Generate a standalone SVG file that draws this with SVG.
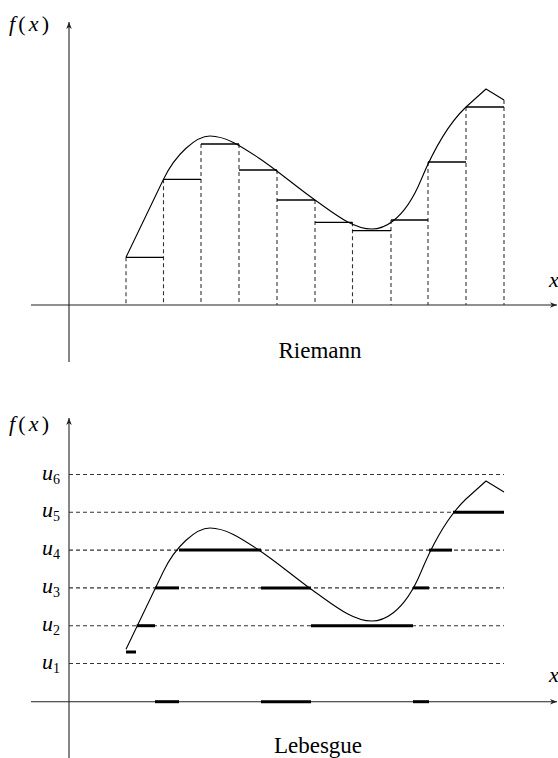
<svg xmlns="http://www.w3.org/2000/svg" width="558" height="758" viewBox="0 0 558 758">
<style>
.axis{stroke:#222;stroke-width:1.1;fill:none}
.curve{stroke:#000;stroke-width:1.1;fill:none;stroke-linejoin:round}
.dash{stroke:#333;stroke-width:1.1;stroke-dasharray:4,3;fill:none}
.bar{stroke:#000;stroke-width:1.3;fill:none}
.thick{stroke:#000;stroke-width:3;fill:none}
.math{font-family:"Liberation Serif","DejaVu Serif",serif;font-style:italic;font-size:22px;fill:#000}
.rm{font-family:"Liberation Serif","DejaVu Serif",serif;fill:#000}
.cap{font-family:"Liberation Serif","DejaVu Serif",serif;font-size:23px;fill:#000;text-anchor:middle}
.sub{font-family:"Liberation Serif","DejaVu Serif",serif;font-size:14px;fill:#000}
</style>
<defs>
<marker id="arr" viewBox="-8 -4 9 8" refX="0" refY="0" markerWidth="9" markerHeight="8" markerUnits="userSpaceOnUse" orient="auto">
<path d="M0,0 L-7,-2.8 L-5,0 L-7,2.8 z" fill="#222"/>
</marker>
<path id="fcurve" d="M126,257.3 L163.5,179.3 C175.5,154.3 196,136 210,136 C226,136 242,146.9 258,157.5 C277,170 296,186.7 315,200 C333.9,213.2 352.8,229 371.7,229 C381.7,229 403,223.2 421,180 C436,144 451,121.3 466,107 L486,89 L504,100"/>
</defs>

<g id="riemann-axes">
<line class="axis" x1="69" y1="362" x2="69" y2="22" marker-end="url(#arr)"/>
<line class="axis" x1="31" y1="305" x2="557" y2="305" marker-end="url(#arr)"/>
<text class="math" x="9" y="30.5" textLength="40" lengthAdjust="spacing">f<tspan class="rm" font-style="normal">(</tspan>x<tspan class="rm" font-style="normal">)</tspan></text>
<text class="math" x="549" y="287">x</text>
</g>

<g id="riemann-connectors">
<line class="dash" x1="126" y1="257.3" x2="126" y2="305"/>
<line class="dash" x1="163.5" y1="179.3" x2="163.5" y2="305"/>
<line class="dash" x1="201" y1="144" x2="201" y2="305"/>
<line class="dash" x1="239" y1="144" x2="239" y2="305"/>
<line class="dash" x1="277" y1="170" x2="277" y2="305"/>
<line class="dash" x1="315" y1="200" x2="315" y2="305"/>
<line class="dash" x1="352.5" y1="222.3" x2="352.5" y2="305"/>
<line class="dash" x1="391" y1="220" x2="391" y2="305"/>
<line class="dash" x1="428" y1="162" x2="428" y2="305"/>
<line class="dash" x1="466" y1="107" x2="466" y2="305"/>
<line class="dash" x1="504" y1="100" x2="504" y2="305"/>
</g>

<g id="riemann-bars">
<line class="bar" x1="126" y1="257.3" x2="163.5" y2="257.3"/>
<line class="bar" x1="163.5" y1="179.3" x2="201" y2="179.3"/>
<line class="bar" x1="201" y1="144" x2="239" y2="144"/>
<line class="bar" x1="239" y1="170" x2="277" y2="170"/>
<line class="bar" x1="277" y1="200" x2="315" y2="200"/>
<line class="bar" x1="315" y1="222.3" x2="352.5" y2="222.3"/>
<line class="bar" x1="352.5" y1="230.7" x2="391" y2="230.7"/>
<line class="bar" x1="391" y1="220" x2="428" y2="220"/>
<line class="bar" x1="428" y1="162" x2="466" y2="162"/>
<line class="bar" x1="466" y1="107" x2="504" y2="107"/>
</g>

<g id="riemann-curve">
<use href="#fcurve" class="curve"/>
</g>

<g id="riemann-label">
<text class="cap" x="320" y="357.5">Riemann</text>
</g>

<g id="lebesgue-axes">
<line class="axis" x1="69" y1="758" x2="69" y2="418" marker-end="url(#arr)"/>
<line class="axis" x1="31" y1="701.7" x2="557" y2="701.7" marker-end="url(#arr)"/>
<text class="math" x="9" y="430.5" textLength="40" lengthAdjust="spacing">f<tspan class="rm" font-style="normal">(</tspan>x<tspan class="rm" font-style="normal">)</tspan></text>
<text class="math" x="549" y="682">x</text>
</g>

<g id="lebesgue-levels">
<line class="dash" x1="69" y1="474.5" x2="504" y2="474.5"/>
<line class="dash" x1="69" y1="512.3" x2="504" y2="512.3"/>
<line class="dash" x1="69" y1="550.1" x2="504" y2="550.1"/>
<line class="dash" x1="69" y1="587.9" x2="504" y2="587.9"/>
<line class="dash" x1="69" y1="625.7" x2="504" y2="625.7"/>
<line class="dash" x1="69" y1="663.5" x2="504" y2="663.5"/>
<text class="math" x="42" y="479.5">u<tspan class="sub" font-style="normal" dy="4">6</tspan></text>
<text class="math" x="42" y="517.3">u<tspan class="sub" font-style="normal" dy="4">5</tspan></text>
<text class="math" x="42" y="555.1">u<tspan class="sub" font-style="normal" dy="4">4</tspan></text>
<text class="math" x="42" y="592.9">u<tspan class="sub" font-style="normal" dy="4">3</tspan></text>
<text class="math" x="42" y="630.7">u<tspan class="sub" font-style="normal" dy="4">2</tspan></text>
<text class="math" x="42" y="668.5">u<tspan class="sub" font-style="normal" dy="4">1</tspan></text>
</g>

<g id="lebesgue-curve">
<use href="#fcurve" class="curve" transform="translate(0,392)"/>
</g>

<g id="lebesgue-segments">
<line class="thick" x1="126" y1="652" x2="136" y2="652"/>
<line class="thick" x1="136.7" y1="625.7" x2="155" y2="625.7"/>
<line class="thick" x1="311" y1="625.7" x2="413" y2="625.7"/>
<line class="thick" x1="155" y1="587.9" x2="179" y2="587.9"/>
<line class="thick" x1="261" y1="587.9" x2="311" y2="587.9"/>
<line class="thick" x1="413" y1="587.9" x2="429" y2="587.9"/>
<line class="thick" x1="179" y1="550.1" x2="261" y2="550.1"/>
<line class="thick" x1="429" y1="550.1" x2="452" y2="550.1"/>
<line class="thick" x1="453" y1="512.3" x2="504" y2="512.3"/>
<line class="thick" x1="155" y1="701.7" x2="179" y2="701.7"/>
<line class="thick" x1="261" y1="701.7" x2="311" y2="701.7"/>
<line class="thick" x1="413" y1="701.7" x2="429" y2="701.7"/>
</g>

<g id="lebesgue-label">
<text class="cap" x="318" y="753">Lebesgue</text>
</g>
</svg>
